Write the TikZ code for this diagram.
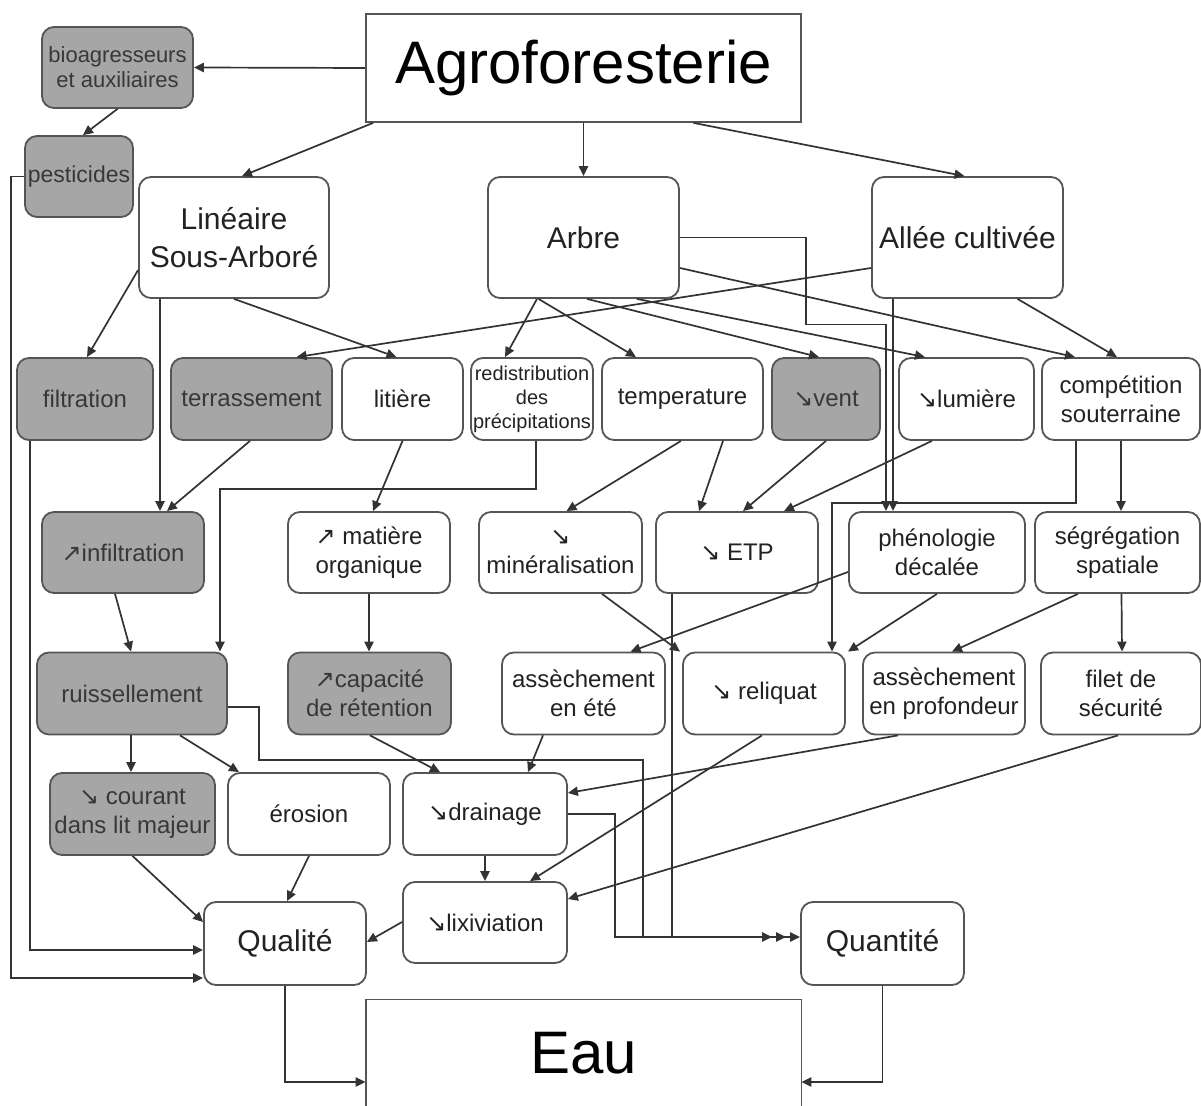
\documentclass[tikz,border=0pt]{standalone}
\usepackage{fontspec}
\setmainfont{Liberation Sans}
\newfontfamily\arrfont{DejaVu Sans}
\usetikzlibrary{arrows.meta}
\definecolor{gfill}{HTML}{A6A6A6}
\definecolor{bcol}{HTML}{555555}
\definecolor{tcol}{HTML}{222222}
\definecolor{gtcol}{HTML}{383838}
\definecolor{lcol}{HTML}{333333}
\newcommand\arrdn{{\arrfont\char"2198}}
\newcommand\arrup{{\arrfont\char"2197}}
\begin{document}
\begin{tikzpicture}[x=0.5pt,y=-0.5pt,
  box/.style={draw=bcol, line width=0.9pt, rounded corners=6pt, fill=white, text=tcol,
    align=center, inner sep=0pt, font=\fontsize{12}{14.5}\selectfont},
  gbox/.style={box, fill=gfill, text=gtcol},
  sq/.style={draw=bcol, line width=0.9pt, fill=white, inner sep=0pt, align=center},
  sz/.style 2 args={minimum width=#1*0.5pt, minimum height=#2*0.5pt},
  big/.style={font=\fontsize{15}{19}\selectfont},
  frame/.style={draw=bcol, line width=0.9pt},
  con/.style={draw=lcol, line width=0.85pt, -{Triangle[length=5pt,width=4.6pt]}}]
\fill[white] (0,0) rectangle (1201,1106);
\useasboundingbox (0,0) rectangle (1201,1106);

% top
\node[sq, sz={435}{108}, font=\fontsize{30}{36}\selectfont, text=black] (agro) at (583.5,68) {Agroforesterie};
\node[gbox, sz={151}{81}, font=\fontsize{11}{12.5}\selectfont] (bio) at (117.5,67.5) {bioagresseurs\\et auxiliaires};
\node[gbox, sz={108}{81}, font=\fontsize{11.5}{14}\selectfont] (pest) at (79,176.5) {pesticides};
\node[box, big, sz={190}{121}] (lin) at (234,237.5) {Linéaire\\Sous-Arboré};
\node[box, big, sz={191}{121}] (arbre) at (583.5,237.5) {Arbre};
\node[box, big, sz={191}{121}] (allee) at (967.5,237.5) {Allée cultivée};

% row 3
\node[gbox, sz={136}{82}] (filt) at (85,399) {filtration};
\node[gbox, sz={161}{82}] (terr) at (251.5,399) {terrassement};
\node[box, sz={121}{82}] (lit) at (402.5,399) {litière};
\node[box, sz={122}{82}, font=\fontsize{10}{12}\selectfont] (redis) at (532,399) {redistribution\\des\\précipitations};
\node[box, sz={161}{82}] (temp) at (682.5,399) {temperature};
\node[gbox, sz={108}{82}] (vent) at (826,399) {\arrdn vent};
\node[box, sz={135}{82}] (lum) at (966.5,399) {\arrdn lumière};
\node[box, sz={158}{82}] (comp) at (1121,399) {compétition\\souterraine};

% row 4
\node[gbox, sz={162}{81}] (infil) at (123,552.5) {\arrup infiltration};
\node[box, sz={162}{81}] (mat) at (369,552.5) {\arrup{} matière\\organique};
\node[box, sz={163}{81}] (min) at (560.5,552.5) {\arrdn\\minéralisation};
\node[box, sz={162}{81}] (etp) at (737,552.5) {\arrdn{} ETP};
\node[box, sz={176}{81}] (phen) at (937,552.5) {phénologie\\décalée};
\node[box, sz={165}{81}] (seg) at (1117.5,552.5) {ségrégation\\spatiale};

% row 5
\node[gbox, sz={190}{82}] (ruis) at (132,693.5) {ruissellement};
\node[gbox, sz={163}{82}] (cap) at (369.5,693.5) {\arrup capacité\\de rétention};
\node[box, sz={163}{82}] (ase) at (583.5,693.5) {assèchement\\en été};
\node[box, sz={162}{82}] (rel) at (764,693.5) {\arrdn{} reliquat};
\node[box, sz={162}{82}] (asp) at (944,693.5) {assèchement\\en profondeur};
\node[box, sz={160}{82}] (fil) at (1121,693.5) {filet de\\sécurité};

% row 6
\node[gbox, sz={165}{82}] (cour) at (132.5,814) {\arrdn{} courant\\dans lit majeur};
\node[box, sz={162}{82}] (ero) at (309,814) {érosion};
\node[box, sz={164}{82}] (drain) at (485,814) {\arrdn drainage};

% bottom
\node[box, sz={164}{81}] (lix) at (485,922.5) {\arrdn lixiviation};
\node[box, big, sz={162}{83}] (qual) at (285,943.5) {Qualité};
\node[box, big, sz={163}{83}] (quant) at (882.5,943.5) {Quantité};
\node[font=\fontsize{30}{36}\selectfont, text=black, minimum width=217.5pt, minimum height=53pt, inner sep=0pt] (eau) at (583.5,1053) {Eau};
\draw[frame] ([shift={(0,150)}]eau.north west) -- (eau.north west) -- (eau.north east) -- ([shift={(0,150)}]eau.north east);

% connectors
\draw[con] (agro.west) -- (bio.east);
\draw[con] (bio.south) -- ([shift={(4,0)}]pest.north);
\draw[con] ([shift={(8,0)}]agro.south west) -- ([shift={(8,0)}]lin.north);
\draw[con] (agro.south) -- (arbre.north);
\draw[con] ([shift={(110,0)}]agro.south) -- ([shift={(-3,0)}]allee.north);
\draw[con] (pest.west) -- ++(-13,0) |- ([shift={(0,34.5)}]qual.west);
\draw[con] ([shift={(-55,0)}]filt.south) |- ([shift={(0,6.5)}]qual.west);
\draw[con] ([shift={(0,32.5)}]lin.west) -- ([shift={(2,0)}]filt.north);
\draw[con] ([shift={(-74,0)}]lin.south) -- ([shift={(37,0)}]infil.north);
\draw[con] (lin.south) -- ([shift={(-6,0)}]lit.north);
\draw[con] ([shift={(0,30.5)}]allee.west) -- ([shift={(45,0)}]terr.north);
\draw[con] ([shift={(-1.5,0)}]terr.south) -- ([shift={(44,0)}]infil.north);
\draw[con] ([shift={(-46.5,0)}]arbre.south) -- ([shift={(-27,0)}]redis.north);
\draw[con] ([shift={(-45,0)}]arbre.south) -- ([shift={(-46.5,0)}]temp.north);
\draw[con] ([shift={(3.5,0)}]arbre.south) -- ([shift={(-7,0)}]vent.north);
\draw[con] ([shift={(53.5,0)}]arbre.south) -- ([shift={(-41.5,0)}]lum.north);
\draw[con] ([shift={(0,30.5)}]arbre.east) -- ([shift={(-46,0)}]comp.north);
\draw[con] ([shift={(50,0)}]allee.south) -- ([shift={(-4,0)}]comp.north);
\draw[con] (arbre.east) -- ++(126,0) -- ++(0,87) -| ([shift={(-51,0)}]phen.north);
\draw[con] ([shift={(-74.5,0)}]allee.south) -- ([shift={(-44,0)}]phen.north);
\draw[con] (lit.south) -- ([shift={(4,0)}]mat.north);
\draw[con] ([shift={(4,0)}]redis.south) -- ++(0,48) -| ([shift={(88,0)}]ruis.north);
\draw[con] ([shift={(-1.5,0)}]temp.south) -- ([shift={(6,0)}]min.north);
\draw[con] ([shift={(40.5,0)}]temp.south) -- ([shift={(-38,0)}]etp.north);
\draw[con] (vent.south) -- ([shift={(6,0)}]etp.north);
\draw[con] ([shift={(-34.5,0)}]lum.south) -- ([shift={(47,0)}]etp.north);
\draw[con] ([shift={(-45,0)}]comp.south) -- ++(0,62) -| ([shift={(68,0)}]rel.north);
\draw[con] (comp.south) -- (comp.south |- seg.north);
\draw[con] ([shift={(-8,0)}]infil.south) -- ([shift={(-1,0)}]ruis.north);
\draw[con] (mat.south) -- (mat.south |- cap.north);
\draw[con] ([shift={(41.5,0)}]min.south) -- ([shift={(-84,0)}]rel.north);
\draw[con] ([shift={(0,19.5)}]phen.west) -- ([shift={(47,0)}]ase.north);
\draw[con] (phen.south) -- ([shift={(84,0)}]rel.north);
\draw[con] ([shift={(-39.5,0)}]seg.south) -- ([shift={(8,0)}]asp.north);
\draw[con] ([shift={(4,0)}]seg.south) -- ([shift={(1,0)}]fil.north);
\draw[con] ([shift={(-65,0)}]etp.south) |- ([shift={(0,-6.5)}]quant.west);
\draw[con] ([shift={(0,13.5)}]ruis.east) -- ++(31,0) -- ++(0,53) -- ++(384,0) |- ([shift={(-14,-6.5)}]quant.west);
\draw[con] (drain.east) -- ++(47,0) |- ([shift={(-28,-6.5)}]quant.west);
\draw[con] ([shift={(-1,0)}]ruis.south) -- ([shift={(-1.5,0)}]cour.north);
\draw[con] ([shift={(48,0)}]ruis.south) -- ([shift={(-70,0)}]ero.north);
\draw[con] ([shift={(0.5,0)}]cap.south) -- ([shift={(-45,0)}]drain.north);
\draw[con] ([shift={(-40.5,0)}]ase.south) -- ([shift={(43,0)}]drain.north);
\draw[con] ([shift={(-46,0)}]asp.south) -- ([shift={(0,-21)}]drain.east);
\draw[con] ([shift={(-2,0)}]rel.south) -- ([shift={(45,0)}]lix.north);
\draw[con] ([shift={(-3,0)}]fil.south) -- ([shift={(0,-23.5)}]lix.east);
\draw[con] (drain.south) -- (lix.north);
\draw[con] (cour.south) -- ([shift={(0,-21.5)}]qual.west);
\draw[con] (ero.south) -- ([shift={(2,0)}]qual.north);
\draw[con] ([shift={(0,-0.5)}]lix.west) -- ([shift={(0,-1.5)}]qual.east);
\draw[con] (qual.south) |- ([shift={(0,29)}]eau.west);
\draw[con] (quant.south) |- ([shift={(0,29)}]eau.east);
\end{tikzpicture}
\end{document}
